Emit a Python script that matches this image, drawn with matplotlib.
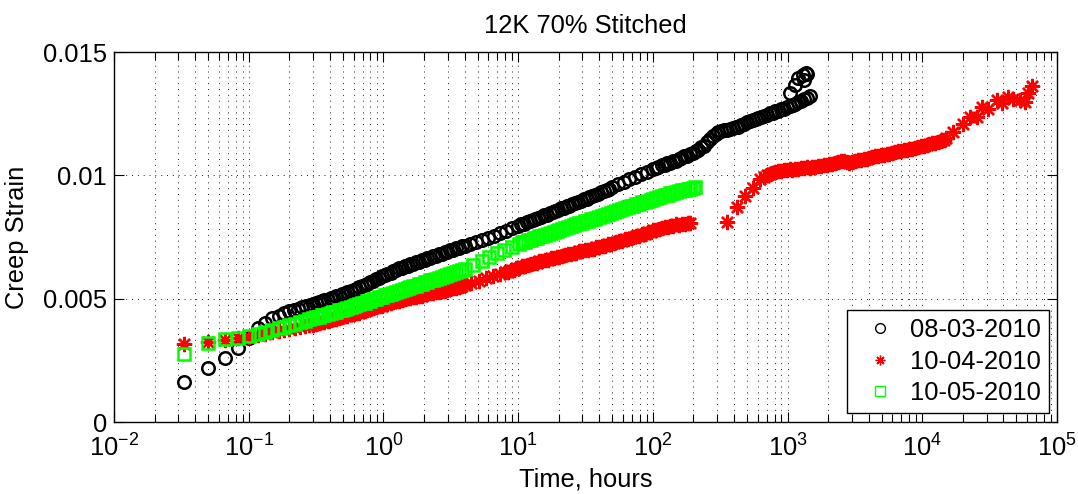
import matplotlib
matplotlib.use('Agg')
import matplotlib.pyplot as plt
from matplotlib.ticker import LogLocator, NullFormatter
import numpy as np

plt.rcParams['font.family'] = 'Liberation Sans'
plt.rcParams['mathtext.fontset'] = 'custom'
plt.rcParams['mathtext.rm'] = 'Liberation Sans'
plt.rcParams['mathtext.it'] = 'Liberation Sans:italic'

title = '12K 70% Stitched'
series_names = ['08-03-2010', '10-04-2010', '10-05-2010']

# 08-03-2010 (time in hours, creep strain)
black_t = [0.0333, 0.05, 0.0667, 0.0833, 0.1, 0.117, 0.133, 0.15, 0.167, 0.183,
           0.2, 0.217, 0.233, 0.25, 0.267, 0.283,
           0.3, 0.315, 0.33, 0.35, 0.365, 0.385, 0.405, 0.425, 0.445, 0.47,
           0.49, 0.515, 0.54, 0.57, 0.6, 0.63, 0.66, 0.69, 0.73, 0.76,
           0.8, 0.84, 0.88, 0.93, 0.97, 1.02, 1.07, 1.13, 1.18, 1.24,
           1.3, 1.37, 1.44, 1.51, 1.58, 1.66, 1.75, 1.83, 1.92, 2.02,
           2.12, 2.23, 2.34, 2.45, 2.58, 2.7, 2.84, 2.98, 3.13, 3.29,
           3.45, 3.62, 3.8, 4.0,
           4.4, 4.9, 5.4, 6.0, 6.6, 7.3, 8.1, 9.0,
           10, 10.5, 11, 11.6, 12.2, 12.8, 13.4, 14.1, 14.8, 15.5,
           16.3, 17.1, 18, 18.9, 19.8, 20.8, 21.8, 22.9, 24, 25.2,
           26.5, 27.8, 29.2, 30.7, 32.2, 33.8, 35.5, 37.3, 39.1, 41.1,
           43.1, 45.3, 47.5, 50,
           55, 61, 67, 74, 82, 90,
           100, 105, 110, 116, 122, 128, 134, 141, 148, 155,
           163, 171, 180, 189, 198, 208, 218, 229, 240, 252,
           265, 278, 292, 307, 322, 338, 355, 373, 391, 411,
           431, 453, 475, 499, 524, 550, 578, 607, 637, 669,
           702, 737, 774, 813, 854, 896, 941, 988, 1037, 1089,
           1144, 1201, 1261, 1324, 1390, 1460,
           1045, 1137, 1200, 1300, 1370, 1400, 1320]
black_strain = [0.00162, 0.0022, 0.0026, 0.0030, 0.0034, 0.0038, 0.0040, 0.0042, 0.0043, 0.0044,
                0.00450, 0.00455, 0.00460, 0.00465, 0.00470, 0.00474,
                0.00478, 0.00482, 0.00485, 0.00489, 0.00493, 0.00496, 0.00501, 0.00504, 0.00509, 0.00512,
                0.00517, 0.00521, 0.00526, 0.00530, 0.00537, 0.00540, 0.00546, 0.00550, 0.00557, 0.00561,
                0.00568, 0.00572, 0.00579, 0.00584, 0.00591, 0.00595, 0.00602, 0.00606, 0.00613, 0.00616,
                0.00623, 0.00626, 0.00632, 0.00634, 0.00640, 0.00642, 0.00648, 0.00650, 0.00656, 0.00658,
                0.00664, 0.00666, 0.00672, 0.00674, 0.00680, 0.00682, 0.00688, 0.00690, 0.00696, 0.00698,
                0.00704, 0.00706, 0.00712, 0.00714,
                0.00720, 0.00728, 0.00736, 0.00745, 0.00755, 0.00765, 0.00775, 0.00785,
                0.00795, 0.00802, 0.00804, 0.00811, 0.00813, 0.00820, 0.00822, 0.00829, 0.00831, 0.00838,
                0.00840, 0.00847, 0.00850, 0.00857, 0.00859, 0.00866, 0.00868, 0.00875, 0.00877, 0.00884,
                0.00887, 0.00894, 0.00896, 0.00903, 0.00906, 0.00913, 0.00915, 0.00922, 0.00925, 0.00932,
                0.00935, 0.00942, 0.00945, 0.00954,
                0.00964, 0.00975, 0.00985, 0.00995, 0.01005, 0.01015,
                0.01025, 0.01031, 0.01033, 0.01040, 0.01042, 0.01049, 0.01051, 0.01058, 0.01060, 0.01067,
                0.01070, 0.01077, 0.01080, 0.01088, 0.01091, 0.01100, 0.01103, 0.01114, 0.01120, 0.01134,
                0.01146, 0.01158, 0.01166, 0.01175, 0.01178, 0.01184, 0.01185, 0.01189, 0.01190, 0.01196,
                0.01198, 0.01205, 0.01208, 0.01216, 0.01219, 0.01226, 0.01228, 0.01234, 0.01236, 0.01242,
                0.01245, 0.01251, 0.01253, 0.01259, 0.01262, 0.01268, 0.01271, 0.01277, 0.01281, 0.01287,
                0.01291, 0.01298, 0.01302, 0.01310, 0.01314, 0.01322,
                0.01334, 0.01366, 0.01395, 0.01407, 0.01415, 0.01410, 0.01387]

# 10-04-2010
red_t = [0.0333, 0.05, 0.0667, 0.0833, 0.1, 0.117, 0.133, 0.15, 0.167, 0.183,
         0.2, 0.22, 0.24, 0.26, 0.28,
         0.3, 0.315, 0.33, 0.35, 0.365, 0.385, 0.405, 0.425, 0.445, 0.47,
         0.49, 0.515, 0.54, 0.57, 0.6, 0.63, 0.66, 0.69, 0.73, 0.76,
         0.8, 0.84, 0.88, 0.93, 0.97, 1.02, 1.07, 1.13, 1.18, 1.24,
         1.3, 1.37, 1.44, 1.51, 1.58, 1.66, 1.75, 1.83, 1.92, 2.02,
         2.12, 2.23, 2.34, 2.45, 2.58, 2.7, 2.84, 2.98, 3.13, 3.29,
         3.45, 3.62, 3.8, 4.0,
         4.5, 5.1, 5.8, 6.5, 7.3,
         8, 8.4, 8.8, 9.3, 9.7, 10.2, 10.7, 11.3, 11.8, 12.4,
         13, 13.7, 14.4, 15.1, 15.8, 16.6, 17.5, 18.3, 19.3, 20.2,
         21.2, 22.3, 23.4, 24.6, 25.8, 27.1, 28.4, 29.9, 31.4, 32.9,
         34.6, 36.3, 38.1, 40, 42, 44.1, 46.3, 48.6, 51.1, 53.6,
         56.3, 59.1, 62.1, 65.2, 68.4, 71.8, 75.4, 79.2, 83.2, 87.3,
         91.7, 96.3, 101, 106, 111, 117, 123, 129, 135, 142,
         149, 157, 165, 173, 181, 189,
         356, 422, 487, 555, 620, 670,
         700, 735, 772, 810, 851, 893, 938, 985, 1034, 1086,
         1140, 1197, 1257, 1320, 1386, 1455, 1528, 1604, 1684, 1769,
         1857, 1950, 2047, 2150, 2257, 2370, 2489, 2613, 2744, 2881,
         3025, 3176, 3335, 3502, 3677, 3861, 4054, 4257, 4470, 4693,
         4928, 5174, 5433, 5705, 5990, 6289, 6604, 6934, 7281, 7645,
         8027, 8428, 8850, 9292, 9757, 10245, 10757, 11295, 11860, 12453,
         13075, 13729, 14416, 15000,
         17000, 19950, 22600, 25400, 27700, 31000, 35700, 38900,
         43600, 47500, 53200, 58000, 61400, 65000]
red_strain = [0.00316, 0.00324, 0.00334, 0.00340, 0.00345, 0.00352, 0.00358, 0.00363, 0.00368, 0.00372,
              0.00376, 0.00380, 0.00384, 0.00388, 0.00392,
              0.00395, 0.00399, 0.00400, 0.00405, 0.00406, 0.00411, 0.00412, 0.00417, 0.00418, 0.00423,
              0.00424, 0.00429, 0.00430, 0.00436, 0.00437, 0.00442, 0.00444, 0.00449, 0.00451, 0.00456,
              0.00458, 0.00463, 0.00465, 0.00470, 0.00472, 0.00477, 0.00479, 0.00484, 0.00485, 0.00490,
              0.00491, 0.00496, 0.00497, 0.00502, 0.00502, 0.00507, 0.00507, 0.00512, 0.00512, 0.00517,
              0.00517, 0.00522, 0.00522, 0.00527, 0.00527, 0.00532, 0.00532, 0.00537, 0.00538, 0.00543,
              0.00544, 0.00549, 0.00550, 0.00555,
              0.00565, 0.00573, 0.00582, 0.00590, 0.00600,
              0.00608, 0.00610, 0.00616, 0.00617, 0.00623, 0.00625, 0.00632, 0.00633, 0.00638, 0.00639,
              0.00645, 0.00646, 0.00651, 0.00652, 0.00657, 0.00658, 0.00663, 0.00664, 0.00669, 0.00670,
              0.00675, 0.00676, 0.00681, 0.00682, 0.00687, 0.00687, 0.00693, 0.00693, 0.00698, 0.00698,
              0.00703, 0.00703, 0.00708, 0.00709, 0.00714, 0.00715, 0.00720, 0.00721, 0.00727, 0.00728,
              0.00734, 0.00735, 0.00741, 0.00742, 0.00748, 0.00749, 0.00755, 0.00756, 0.00763, 0.00764,
              0.00770, 0.00771, 0.00777, 0.00778, 0.00784, 0.00785, 0.00790, 0.00791, 0.00796, 0.00796,
              0.00801, 0.00800, 0.00804, 0.00803, 0.00807, 0.00807,
              0.00810, 0.00870, 0.00916, 0.00950, 0.00985, 0.00995,
              0.01000, 0.01004, 0.01010, 0.01012, 0.01017, 0.01017, 0.01021, 0.01020, 0.01024, 0.01023,
              0.01026, 0.01025, 0.01029, 0.01028, 0.01032, 0.01031, 0.01035, 0.01034, 0.01038, 0.01038,
              0.01042, 0.01042, 0.01046, 0.01047, 0.01052, 0.01055, 0.01060, 0.01058, 0.01056, 0.01052,
              0.01056, 0.01058, 0.01062, 0.01063, 0.01067, 0.01068, 0.01072, 0.01073, 0.01077, 0.01078,
              0.01082, 0.01083, 0.01087, 0.01088, 0.01092, 0.01093, 0.01097, 0.01098, 0.01102, 0.01103,
              0.01107, 0.01108, 0.01112, 0.01114, 0.01118, 0.01120, 0.01124, 0.01126, 0.01130, 0.01133,
              0.01137, 0.01141, 0.01145, 0.01150,
              0.01177, 0.01208, 0.01235, 0.01235, 0.01278, 0.01268, 0.01305, 0.01292,
              0.01316, 0.01308, 0.01305, 0.01299, 0.01333, 0.01362]

# 10-05-2010
green_t = [0.0333, 0.05, 0.0667, 0.0833, 0.1, 0.117, 0.133, 0.15, 0.167, 0.183,
           0.2, 0.22, 0.24, 0.26, 0.28,
           0.3, 0.315, 0.33, 0.35, 0.365, 0.385, 0.405, 0.425, 0.445, 0.47,
           0.49, 0.515, 0.54, 0.57, 0.6, 0.63, 0.66, 0.69, 0.73, 0.76,
           0.8, 0.84, 0.88, 0.93, 0.97, 1.02, 1.07, 1.13, 1.18, 1.24,
           1.3, 1.37, 1.44, 1.51, 1.58, 1.66, 1.75, 1.83, 1.92, 2.02,
           2.12, 2.23, 2.34, 2.45, 2.58, 2.7, 2.84, 2.98, 3.13, 3.29,
           3.45, 3.62, 3.8, 4.0,
           4.6, 5.4, 6.1, 7.0, 7.9, 9.0,
           10.2, 10.7, 11.3, 11.8, 12.4, 13, 13.7, 14.4, 15.1, 15.8,
           16.6, 17.5, 18.3, 19.3, 20.2, 21.2, 22.3, 23.4, 24.6, 25.8,
           27.1, 28.4, 29.9, 31.4, 32.9, 34.6, 36.3, 38.1, 40, 42,
           44.1, 46.3, 48.6, 51.1, 53.6, 56.3, 59.1, 62.1, 65.2, 68.4,
           71.8, 75.4, 79.2, 83.2, 87.3, 91.7, 96.3, 101, 106, 111,
           117, 123, 129, 135, 142, 149, 157, 165, 173, 181,
           189, 197, 206]
green_strain = [0.00276, 0.00320, 0.00336, 0.00342, 0.00349, 0.00357, 0.00366, 0.00374, 0.00381, 0.00387,
                0.00393, 0.00399, 0.00405, 0.00411, 0.00416,
                0.00420, 0.00425, 0.00427, 0.00432, 0.00434, 0.00439, 0.00441, 0.00446, 0.00447, 0.00453,
                0.00454, 0.00460, 0.00462, 0.00467, 0.00469, 0.00475, 0.00477, 0.00482, 0.00484, 0.00490,
                0.00492, 0.00497, 0.00499, 0.00505, 0.00507, 0.00513, 0.00515, 0.00521, 0.00523, 0.00528,
                0.00530, 0.00536, 0.00538, 0.00544, 0.00546, 0.00551, 0.00553, 0.00559, 0.00561, 0.00566,
                0.00568, 0.00574, 0.00576, 0.00581, 0.00583, 0.00589, 0.00591, 0.00597, 0.00599, 0.00605,
                0.00607, 0.00613, 0.00615, 0.00621,
                0.00638, 0.00652, 0.00668, 0.00684, 0.00698, 0.00710,
                0.00722, 0.00729, 0.00731, 0.00737, 0.00739, 0.00745, 0.00747, 0.00753, 0.00755, 0.00760,
                0.00762, 0.00768, 0.00770, 0.00776, 0.00778, 0.00783, 0.00785, 0.00791, 0.00793, 0.00799,
                0.00801, 0.00806, 0.00808, 0.00814, 0.00816, 0.00822, 0.00824, 0.00829, 0.00831, 0.00837,
                0.00839, 0.00845, 0.00847, 0.00852, 0.00854, 0.00860, 0.00862, 0.00868, 0.00870, 0.00875,
                0.00877, 0.00883, 0.00885, 0.00891, 0.00893, 0.00898, 0.00900, 0.00906, 0.00908, 0.00913,
                0.00915, 0.00920, 0.00922, 0.00927, 0.00929, 0.00934, 0.00935, 0.00940, 0.00941, 0.00945,
                0.00946, 0.00950, 0.00952]

ytick_vals = [0, 0.005, 0.01, 0.015]
ytick_labels = ['0', '0.005', '0.01', '0.015']

fs = 18.4
fig = plt.figure(figsize=(10.78, 4.94), dpi=100)
ax = fig.add_axes([0.1058, 0.1457, 0.8747, 0.749])

ax.plot(black_t, black_strain, ls='none', marker='o', ms=9, mfc='none', mec='k', mew=1.8,
        label=series_names[0])
ax.plot(red_t, red_strain, ls='none', marker=(8, 2, 0), ms=11, color='#ff0000', mew=1.7,
        label=series_names[1])
ax.plot(green_t, green_strain, ls='none', marker='s', ms=8.5, mfc='none', mec='#00ff00', mew=1.8,
        label=series_names[2])

ax.set_xscale('log')
ax.set_xlim(1e-2, 1e5)
ax.set_ylim(0, 0.015)
ax.set_yticks(ytick_vals, ytick_labels)
ax.xaxis.set_major_locator(LogLocator(base=10))
ax.xaxis.set_minor_locator(LogLocator(base=10, subs=np.arange(2, 10), numticks=12))
ax.xaxis.set_minor_formatter(NullFormatter())

ax.tick_params(which='both', direction='in', top=True, right=True, labelsize=fs)
ax.tick_params(which='major', length=7, width=0.8)
ax.tick_params(axis='x', which='major', pad=9)
ax.tick_params(axis='y', which='major', pad=5)
ax.tick_params(which='minor', length=5.5, width=0.8)

ax.set_axisbelow(True)
ax.grid(True, which='both', axis='x', color='k', lw=0.6, ls=(0, (1.2, 5.8)))
ax.grid(True, which='major', axis='y', color='k', lw=0.6, ls=(0, (1.2, 5.8)))
for s in ax.spines.values():
    s.set_linewidth(1.0)

ax.set_title(title, fontsize=fs, pad=14)
ax.set_xlabel('Time, hours', fontsize=fs, labelpad=4)
ax.set_ylabel('Creep Strain', fontsize=fs, labelpad=10)

leg = ax.legend(loc='lower right', bbox_to_anchor=(0.9915, 0.0243), borderaxespad=0,
                fancybox=False, edgecolor='k', framealpha=1, fontsize=fs,
                handlelength=2.0, handletextpad=0.2, labelspacing=0.3, borderpad=0.3)
leg.get_frame().set_linewidth(1.0)
for h in leg.legend_handles:
    h.set_markersize(7)
    h.set_markeredgewidth(1.0)

fig.savefig('out.png', dpi=100)
